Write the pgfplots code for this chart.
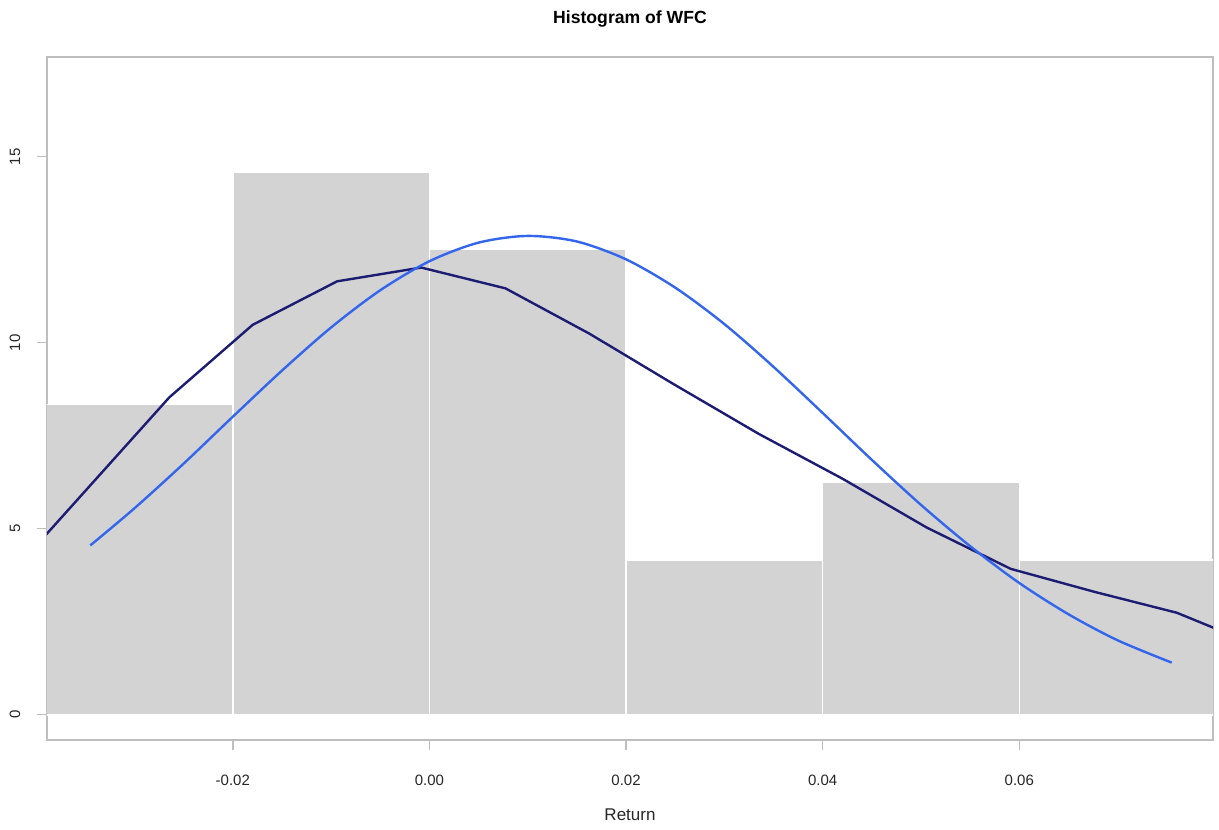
\documentclass[border=0pt]{standalone}
\usepackage{pgfplots}
\pgfplotsset{compat=1.18}
\usepackage{fontspec}
\setmainfont{Liberation Sans}
\definecolor{histgray}{RGB}{211,211,211}
\definecolor{normblue}{RGB}{51,102,235}
\definecolor{kdnavy}{RGB}{28,28,115}
\definecolor{axgray}{RGB}{190,190,190}
\begin{document}
\begin{tikzpicture}
\path[use as bounding box] (-23.5pt,-44.5pt) rectangle (586pt,370pt);
\begin{axis}[
  scale only axis, width=583pt, height=341.5pt,
  xmin=-0.0389, xmax=0.0797, ymin=-0.68, ymax=17.68,
  axis line style={axgray, line width=0.7pt},
  tick align=outside, tick pos=left,
  major tick length=5pt,
  every tick/.style={axgray, line width=0.7pt},
  xtick={-0.02,0,0.02,0.04,0.06},
  xticklabels={-0.02,0.00,0.02,0.04,0.06},
  scaled x ticks=false,
  ytick={0,5,10,15},
  /pgf/number format/assume math mode=true,
  xticklabel style={font=\fontsize{7.5}{9}\selectfont, text=black!85, anchor=center, yshift=-15pt},
  yticklabel style={font=\fontsize{7.5}{9}\selectfont, text=black!85, xshift=-11pt, rotate=90, anchor=center},
  title={Histogram of WFC},
  title style={at={(axis description cs:0.5,1)}, anchor=center, yshift=13pt, font=\fontsize{8.8}{10}\selectfont\bfseries},
  xlabel={Return},
  xlabel style={at={(axis description cs:0.5,0)}, anchor=center, yshift=-37.5pt, font=\fontsize{8.5}{10}\selectfont, text=black!85},
]
\addplot[ybar interval, fill=histgray, draw=white, line width=0.8pt] coordinates {
(-0.04,8.3333) (-0.02,14.5833) (0,12.5) (0.02,4.1667) (0.04,6.25) (0.06,4.1667) (0.08,4.1667)};
\addplot[kdnavy, line width=1.2pt] coordinates {
(-0.0392,4.78) (-0.02646,8.53) (-0.01798,10.48) (-0.00939,11.65) (-0.00084,12.02)
(0.00774,11.46) (0.01629,10.24) (0.02494,8.87) (0.03349,7.55) (0.04204,6.34)
(0.05059,5.03) (0.05913,3.92) (0.06768,3.30) (0.07603,2.74) (0.0800,2.31)};
\addplot[normblue, line width=1.2pt, smooth] coordinates {
(-0.0345,4.55) (-0.0300,5.55) (-0.0250,6.75) (-0.0200,8.01) (-0.0150,9.25)
(-0.0100,10.41) (-0.0050,11.41) (0.0000,12.19) (0.0050,12.69) (0.0100,12.87)
(0.0150,12.72) (0.0200,12.24) (0.0250,11.48) (0.0300,10.50) (0.0350,9.35)
(0.0400,8.11) (0.0450,6.85) (0.0500,5.64) (0.0550,4.53) (0.0600,3.54)
(0.0650,2.70) (0.0700,2.00) (0.0755,1.40)};
\end{axis}
\end{tikzpicture}
\end{document}
